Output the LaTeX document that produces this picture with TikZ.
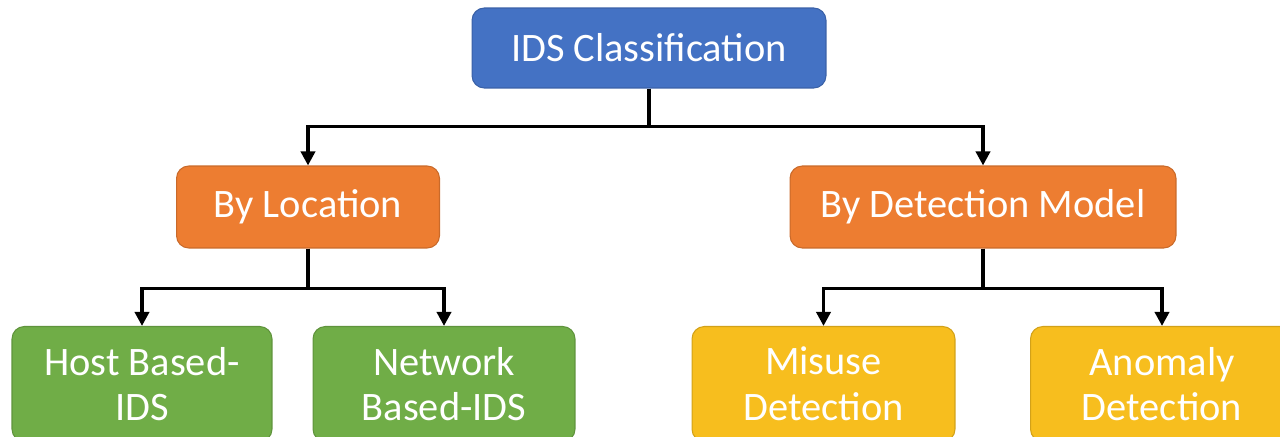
\documentclass[tikz,border=0pt]{standalone}
\usepackage{fontspec}
\setmainfont{Carlito}
\usetikzlibrary{arrows.meta}
\definecolor{idsblue}{HTML}{4472C4}
\definecolor{idsorange}{HTML}{ED7D31}
\definecolor{idsgreen}{HTML}{70AD47}
\definecolor{idsyellow}{HTML}{F7BE1E}
\begin{document}
\begin{tikzpicture}[x=0.02cm,y=-0.02cm,
    box/.style={rounded corners=7pt,text=white,align=center,inner sep=0pt,
        font=\fontsize{23}{26}\selectfont,draw=#1!85!black,fill=#1,line width=0.6pt},
    arr/.style={line width=2.1pt,-{Triangle[width=8pt,length=8pt]}}]
    \useasboundingbox (0,0) rectangle (1280,436);
    \clip (0,0) rectangle (1280,436);
    \node[box=idsblue,minimum width=7.08cm,minimum height=1.6cm] (idsc) at (649,48) {IDS Classification};
    \node[box=idsorange,minimum width=5.26cm,minimum height=1.64cm] (loc) at (308,207) {By Location};
    \node[box=idsorange,minimum width=7.72cm,minimum height=1.64cm] (model) at (983,207) {By Detection Model};
    \node[box=idsgreen,minimum width=5.2cm,minimum height=2.3cm] (host) at (142,384) {Host Based-\\IDS};
    \node[box=idsgreen,minimum width=5.24cm,minimum height=2.3cm] (net) at (444,384) {Network\\Based-IDS};
    \node[box=idsyellow,minimum width=5.26cm,minimum height=2.3cm] (misuse) at (823.5,384) {Misuse\\Detection};
    \node[box=idsyellow,minimum width=5.26cm,minimum height=2.3cm] (anomaly) at (1162,384) {Anomaly\\Detection};
    % top level
    \draw[arr] (idsc.south) -- ++(0,38) -| (loc);
    \draw[arr] (idsc.south) -- ++(0,38) -| (model);
    % second level
    \draw[arr] (loc.south) -- ++(0,40) -| (host);
    \draw[arr] (loc.south) -- ++(0,40) -| (net);
    \draw[arr] (model.south) -- ++(0,40) -| (misuse);
    \draw[arr] (model.south) -- ++(0,40) -| (anomaly);
\end{tikzpicture}
\end{document}
